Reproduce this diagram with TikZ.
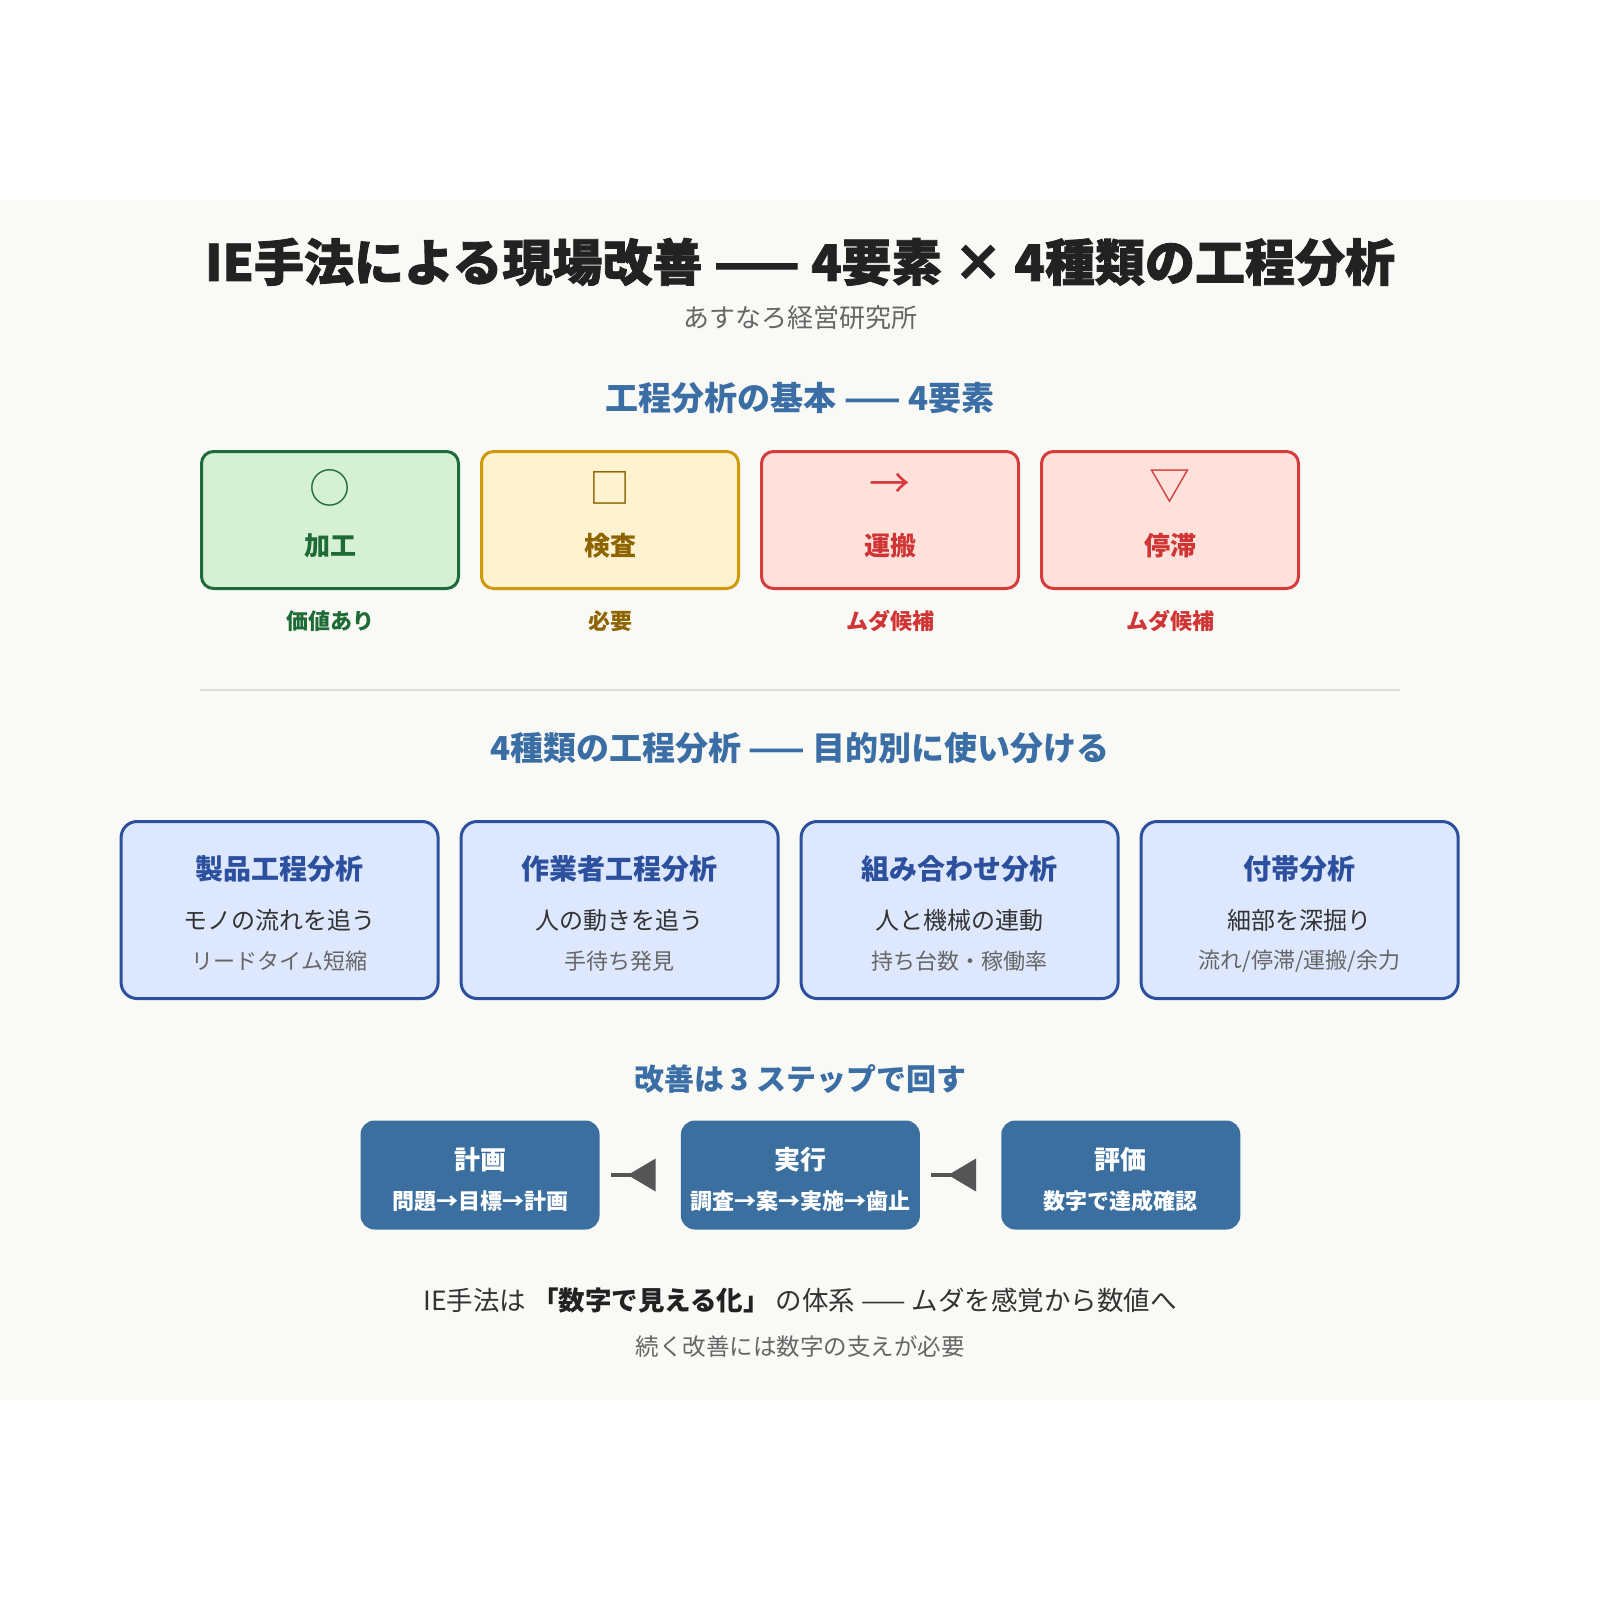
\documentclass[tikz,border=0pt]{standalone}
\usepackage{fontspec}
\setmainfont{Noto Sans CJK JP}
\newfontfamily\heavyfont{Noto Sans CJK JP}[BoldFeatures={FakeBold=1.6}]
\usepackage{xcolor}
\definecolor{ink}{HTML}{222222}
\definecolor{greytext}{HTML}{666666}
\definecolor{bodytext}{HTML}{333333}
\definecolor{panel}{HTML}{F9F9F6}
\definecolor{secblue}{HTML}{3A6EA5}
\definecolor{grnline}{HTML}{1E6B3A}
\definecolor{grnfill}{HTML}{D6F0D4}
\definecolor{grntext}{HTML}{1E6B35}
\definecolor{yelline}{HTML}{CF9A0A}
\definecolor{yelfill}{HTML}{FFF2D0}
\definecolor{yeltext}{HTML}{8E6400}
\definecolor{redline}{HTML}{D63C3C}
\definecolor{redfill}{HTML}{FFE1DC}
\definecolor{redtext}{HTML}{D03535}
\definecolor{kindline}{HTML}{2C4F9E}
\definecolor{kindfill}{HTML}{DDE7FD}
\definecolor{stepblue}{HTML}{3A6FA0}
\definecolor{arrowgrey}{HTML}{555555}
\definecolor{rule}{HTML}{DDDDDD}
\usepackage{tikz}
\usetikzlibrary{arrows.meta,positioning}
\newcommand{\pxfont}[1]{\fontsize{#1}{#1}\selectfont}
\tikzset{
  maintitle/.style={font=\heavyfont\pxfont{50}\bfseries, text=ink},
  subtitle/.style={font=\pxfont{26}, text=greytext},
  sechead/.style={font=\pxfont{#1}\bfseries, text=secblue},
  sechead/.default=32,
  elem/.style={line width=3pt, rounded corners=12pt, minimum width=257pt, minimum height=137pt},
  sym/.style={font=\pxfont{41}},
  elemlabel/.style={font=\pxfont{26}\bfseries},
  elemnote/.style={font=\pxfont{22}\bfseries},
  kind/.style={draw=kindline, fill=kindfill, line width=3pt, rounded corners=16pt, minimum width=317pt, minimum height=177pt},
  kindtitle/.style={font=\pxfont{28}\bfseries, text=kindline},
  kindtext/.style={font=\pxfont{24}, text=bodytext},
  kindnote/.style={font=\pxfont{22}, text=greytext},
  stepbox/.style={fill=stepblue, rounded corners=14pt, minimum width=239pt, minimum height=109pt},
  steptitle/.style={font=\pxfont{26}\bfseries, text=white},
  stepnote/.style={font=\pxfont{22}\bfseries, text=white},
  steparrow/.style={draw=arrowgrey, line width=4pt, -{Triangle[reversed, length=28pt, width=32pt]}},
  closing/.style={font=\pxfont{26.5}, text=bodytext},
  closingnote/.style={font=\pxfont{23.5}, text=greytext},
}
\begin{document}
\begin{tikzpicture}[x=1pt, y=-1pt]
  \useasboundingbox (0,0) rectangle (1600,1600);
  \fill[white] (0,0) rectangle (1600,1600);
  \fill[panel] (0,200) rectangle (1600,1400);

  \node[maintitle] (title) at (800,262) {IE手法による現場改善 —— 4要素 × 4種類の工程分析};
  \node[subtitle] (org) at (800,318) {あすなろ経営研究所};

  % four elements
  \node[sechead=33] (h1) at (800,398) {工程分析の基本 —— 4要素};
  \node[elem, draw=grnline, fill=grnfill] (e1) at (330,520) {};
  \node[elem, draw=yelline, fill=yelfill, right=20pt of e1] (e2) {};
  \node[elem, draw=redline, fill=redfill, right=20pt of e2] (e3) {};
  \node[elem, draw=redline, fill=redfill, right=20pt of e3] (e4) {};

  \node[sym, text=grnline] (e1sym) at ([yshift=32pt]e1.center) {○};
  \node[sym, text=yeltext] (e2sym) at ([yshift=32pt]e2.center) {□};
  \node[sym, text=redline] (e3sym) at ([yshift=34pt]e3.center) {→};
  \node[sym, text=redline] (e4sym) at ([yshift=33pt]e4.center) {▽};

  \node[elemlabel, text=grntext] (e1lab) at ([yshift=-26pt]e1.center) {加工};
  \node[elemlabel, text=yeltext] (e2lab) at ([yshift=-26pt]e2.center) {検査};
  \node[elemlabel, text=redtext] (e3lab) at ([yshift=-26pt]e3.center) {運搬};
  \node[elemlabel, text=redtext] (e4lab) at ([yshift=-26pt]e4.center) {停滞};

  \node[elemnote, text=grntext] (e1note) at ([yshift=-31pt]e1.south) {価値あり};
  \node[elemnote, text=yeltext] (e2note) at ([yshift=-31pt]e2.south) {必要};
  \node[elemnote, text=redtext] (e3note) at ([yshift=-31pt]e3.south) {ムダ候補};
  \node[elemnote, text=redtext] (e4note) at ([yshift=-31pt]e4.south) {ムダ候補};

  \draw[rule, line width=2pt] (200,690) -- (1400,690);

  % four kinds of analysis
  \node[sechead=33] (h2) at (800,748) {4種類の工程分析 —— 目的別に使い分ける};
  \node[kind] (k1) at (279.6,910) {};
  \node[kind, right=20pt of k1] (k2) {};
  \node[kind, right=20pt of k2] (k3) {};
  \node[kind, right=20pt of k3] (k4) {};

  \node[kindtitle] (k1t) at ([yshift=41pt]k1.center) {製品工程分析};
  \node[kindtext] (k1a) at ([yshift=-10pt]k1.center) {モノの流れを追う};
  \node[kindnote] (k1b) at ([yshift=-51pt]k1.center) {リードタイム短縮};
  \node[kindtitle] (k2t) at ([yshift=41pt]k2.center) {作業者工程分析};
  \node[kindtext] (k2a) at ([yshift=-10pt]k2.center) {人の動きを追う};
  \node[kindnote] (k2b) at ([yshift=-51pt]k2.center) {手待ち発見};
  \node[kindtitle] (k3t) at ([yshift=41pt]k3.center) {組み合わせ分析};
  \node[kindtext] (k3a) at ([yshift=-10pt]k3.center) {人と機械の連動};
  \node[kindnote] (k3b) at ([yshift=-51pt]k3.center) {持ち台数・稼働率};
  \node[kindtitle] (k4t) at ([yshift=41pt]k4.center) {付帯分析};
  \node[kindtext] (k4a) at ([yshift=-10pt]k4.center) {細部を深掘り};
  \node[kindnote] (k4b) at ([yshift=-51pt]k4.center) {流れ/停滞/運搬/余力};

  % three steps
  \node[sechead=30] (h3) at (800,1079) {改善は 3 ステップで回す};
  \node[stepbox] (s1) at (480,1175) {};
  \node[stepbox, right=81pt of s1] (s2) {};
  \node[stepbox, right=81pt of s2] (s3) {};

  \node[steptitle] (s1t) at ([yshift=15pt]s1.center) {計画};
  \node[stepnote] (s1n) at ([yshift=-26pt]s1.center) {問題→目標→計画};
  \node[steptitle] (s2t) at ([yshift=15pt]s2.center) {実行};
  \node[stepnote] (s2n) at ([yshift=-26pt]s2.center) {調査→案→実施→歯止};
  \node[steptitle] (s3t) at ([yshift=15pt]s3.center) {評価};
  \node[stepnote] (s3n) at ([yshift=-26pt]s3.center) {数字で達成確認};

  \foreach \a/\b in {s1/s2, s2/s3} \draw[steparrow] ([xshift=11pt]\a.east) -- ([xshift=-25pt]\b.west);

  \node[closing] (c1) at (800,1300) {IE手法は {\bfseries\color{ink}「数字で見える化」} の体系 —— ムダを感覚から数値へ};
  \node[closingnote] (c2) at (800,1347) {続く改善には数字の支えが必要};
\end{tikzpicture}
\end{document}
